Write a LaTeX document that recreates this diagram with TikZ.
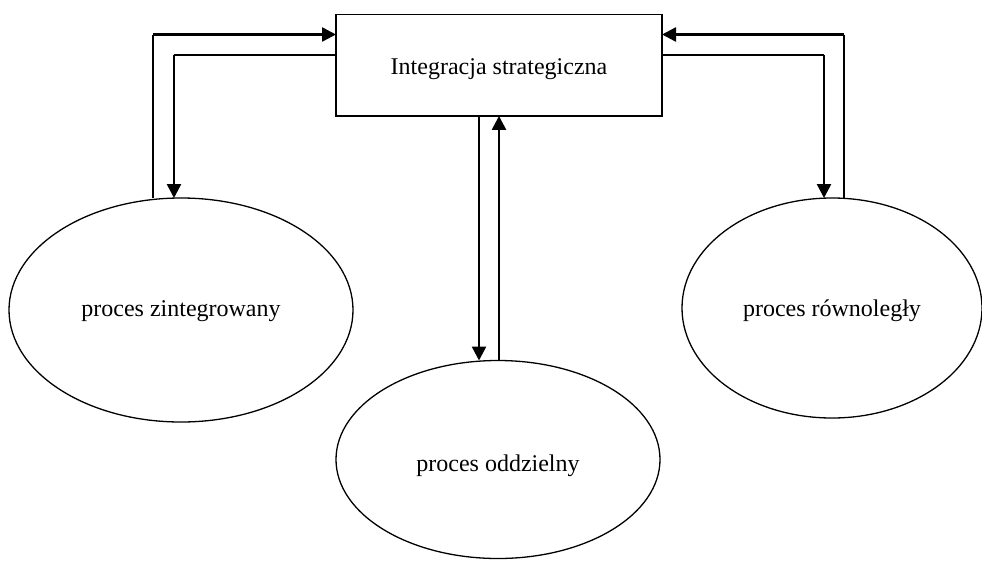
\documentclass[tikz,border=0pt]{standalone}
\usepackage{fontspec}
\setmainfont{Liberation Serif}
\usetikzlibrary{shapes.geometric,arrows.meta}
\begin{document}
\begin{tikzpicture}[x=1pt,y=-1pt,
  every node/.style={font=\fontsize{24}{28}\selectfont, inner sep=0pt, outer sep=0pt, text depth=5.2pt},
  proc/.style={draw, ellipse, line width=1.3pt},
  topbox/.style={draw, rectangle, line width=1.3pt},
  thinln/.style={line width=1.3pt},
  thickln/.style={line width=2.5pt, -{Triangle[length=14pt,width=14pt]}}]
\useasboundingbox (0,0) rectangle (982,560);
\node[topbox, minimum width=326pt, minimum height=101.3pt, text height=23.2pt] (S) at (499,65.3) {Integracja strategiczna};
\node[proc, minimum width=344pt, minimum height=224pt, text height=18.6pt] (L) at (181,310) {proces zintegrowany};
\node[proc, minimum width=324pt, minimum height=198pt, text height=29.6pt] (M) at (498,459.5) {proces oddzielny};
\node[proc, minimum width=300pt, minimum height=220pt, text height=22.6pt] (R) at (832,308) {proces równoległy};
% left connectors
\coordinate (l1) at (153,34.5);
\coordinate (l2) at (174,55);
\draw[thinln] (L.north -| l1) -- (l1);
\draw[thickln] (l1) -- (S.west |- l1);
\draw[thinln] (S.west |- l2) -- (l2);
\draw[thickln] (l2) -- (L.north -| l2);
% right connectors
\coordinate (r1) at (844,34.5);
\coordinate (r2) at (824,55);
\draw[thinln] (R.north -| r1) -- (r1);
\draw[thickln] (r1) -- (S.east |- r1);
\draw[thinln] (S.east |- r2) -- (r2);
\draw[thickln] (r2) -- (R.north -| r2);
% middle connectors
\coordinate (m1) at (479,0);
\coordinate (m2) at (499,0);
\draw[thickln] (S.south -| m1) -- (M.north -| m1);
\draw[thickln] (M.north -| m2) -- (S.south -| m2);
\end{tikzpicture}
\end{document}
